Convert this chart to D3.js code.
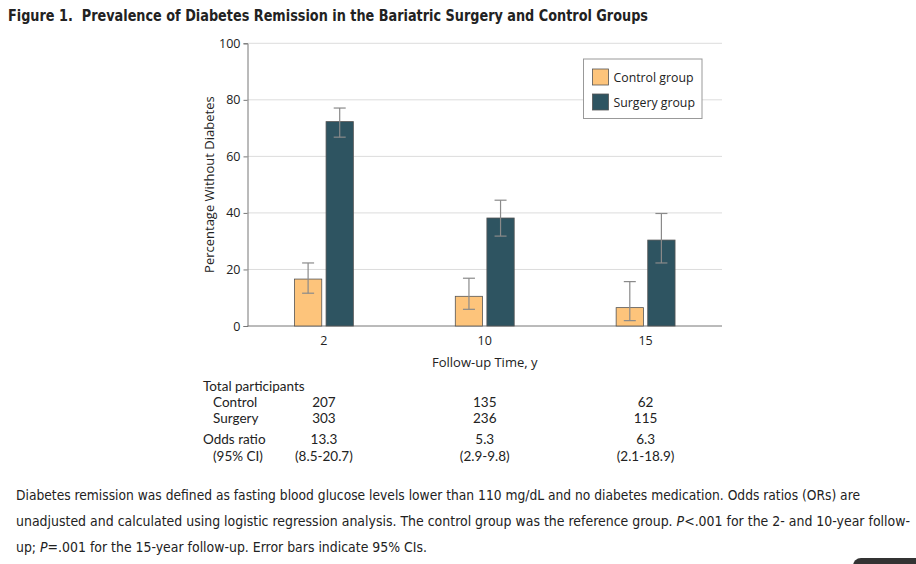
<!DOCTYPE html>
<html><head><meta charset="utf-8">
<script src="https://cdn.jsdelivr.net/npm/d3@7"></script>
<style>
body{margin:0;background:#fff;}
svg{display:block;}
</style></head>
<body>
<script>
const years = ["2", "10", "15"];
const controlValues = [16.6, 10.5, 6.5];
const controlLow = [11.6, 5.9, 1.9];
const controlHigh = [22.3, 16.9, 15.7];
const surgeryValues = [72.3, 38.2, 30.4];
const surgeryLow = [66.8, 31.8, 22.3];
const surgeryHigh = [77.1, 44.5, 39.8];
const yTicks = [0, 20, 40, 60, 80, 100];
const controlN = ["207", "135", "62"];
const surgeryN = ["303", "236", "115"];
const oddsRatio = ["13.3", "5.3", "6.3"];
const oddsCI = ["(8.5-20.7)", "(2.9-9.8)", "(2.1-18.9)"];
const seriesNames = ["Control group", "Surgery group"];
const colors = ["#FDC47B", "#2E5461"];

const W = 916, H = 564;
const svg = d3.select("body").append("svg").attr("width", W).attr("height", H);
const titleFont = "'DejaVu Sans Condensed','DejaVu Sans',sans-serif";
const bodyFont = "'Open Sans','Noto Sans',sans-serif";
const tableFont = "Lato,'Open Sans',sans-serif";

svg.append("text").attr("x", 8).attr("y", 21)
  .attr("font-family", titleFont).attr("font-weight", "bold").attr("font-size", 15)
  .attr("font-stretch", "condensed")
  .attr("fill", "#222")
  .attr("textLength", 640).attr("lengthAdjust", "spacingAndGlyphs")
  .text("Figure 1.\u00a0\u00a0Prevalence of Diabetes Remission in the Bariatric Surgery and Control Groups");

const x0 = 247.5, x1 = 722, yTop = 43.3, yBot = 326;
const x = d3.scalePoint().domain(years).range([x0, x1]).padding(0.475);
const y = d3.scaleLinear().domain([0, 100]).range([yBot, yTop]);

// gridlines
svg.append("g").selectAll("line").data(yTicks.slice(1)).join("line")
  .attr("x1", x0).attr("x2", x1).attr("y1", d => y(d)).attr("y2", d => y(d))
  .attr("stroke", "#dcdcdc").attr("stroke-width", 1);

// y axis
const yAxis = svg.append("g").attr("transform", `translate(${x0},0)`)
  .call(d3.axisLeft(y).tickValues(yTicks).tickSize(4).tickPadding(3));
yAxis.select(".domain").attr("stroke", "#777");
yAxis.selectAll(".tick line").attr("stroke", "#777");
yAxis.selectAll("text").attr("font-family", bodyFont).attr("font-size", 12.5).attr("fill", "#222");

// x axis baseline
svg.append("line").attr("x1", x0).attr("x2", x1).attr("y1", y(0)).attr("y2", y(0))
  .attr("stroke", "#777");
svg.append("g").selectAll("text").data(years).join("text")
  .attr("x", d => x(d)).attr("y", 345).attr("text-anchor", "middle")
  .attr("font-family", bodyFont).attr("font-size", 12.5).attr("fill", "#222").text(d => d);

svg.append("text").attr("x", x("10")).attr("y", 367).attr("text-anchor", "middle")
  .attr("font-family", bodyFont).attr("font-size", 13).attr("fill", "#222").text("Follow-up Time, y");

svg.append("text").attr("transform", `translate(214,${(yTop + yBot) / 2 + 0}) rotate(-90)`)
  .attr("text-anchor", "middle").attr("font-family", bodyFont).attr("font-size", 13)
  .attr("fill", "#222").text("Percentage Without Diabetes");

// bars
const barW = 27.3, gap = 4.3;
const series = [
  {vals: controlValues, lo: controlLow, hi: controlHigh},
  {vals: surgeryValues, lo: surgeryLow, hi: surgeryHigh}
];
const offset = i => i === 0 ? -(barW + gap / 2) : gap / 2;
series.forEach((s, si) => {
  const g = svg.append("g");
  g.selectAll("rect").data(years).join("rect")
    .attr("x", (d) => x(d) + offset(si)).attr("width", barW)
    .attr("y", (d, i) => y(s.vals[i])).attr("height", (d, i) => y(0) - y(s.vals[i]))
    .attr("fill", colors[si]).attr("stroke", "#555").attr("stroke-width", 0.8);
  const eb = g.selectAll("g.err").data(years).join("g").attr("class", "err")
    .attr("stroke", "#8a8a8a").attr("stroke-width", 1.2);
  const cx = d => x(d) + offset(si) + barW / 2;
  eb.append("line").attr("x1", cx).attr("x2", cx)
    .attr("y1", (d, i) => y(s.hi[i])).attr("y2", (d, i) => y(s.lo[i]));
  eb.append("line").attr("x1", d => cx(d) - 6).attr("x2", d => cx(d) + 6)
    .attr("y1", (d, i) => y(s.hi[i])).attr("y2", (d, i) => y(s.hi[i]));
  eb.append("line").attr("x1", d => cx(d) - 6).attr("x2", d => cx(d) + 6)
    .attr("y1", (d, i) => y(s.lo[i])).attr("y2", (d, i) => y(s.lo[i]));
});

// legend
const lg = svg.append("g").attr("transform", "translate(583.5,59)");
lg.append("rect").attr("width", 118.5).attr("height", 59.5).attr("fill", "#fff")
  .attr("stroke", "#999").attr("stroke-width", 1);
seriesNames.forEach((n, i) => {
  lg.append("rect").attr("x", 9).attr("y", 10 + i * 25).attr("width", 16).attr("height", 16)
    .attr("fill", colors[i]).attr("stroke", "#555").attr("stroke-width", 0.8);
  lg.append("text").attr("x", 30).attr("y", 23 + i * 25)
    .attr("font-family", bodyFont).attr("font-size", 12.3).attr("fill", "#222").text(n);
});

// table
function txt(xp, yp, t, anchor) {
  return svg.append("text").attr("x", xp).attr("y", yp).attr("text-anchor", anchor || "start")
    .attr("font-family", tableFont).attr("font-size", 13.5).attr("fill", "#222").text(t);
}
txt(203, 391, "Total participants");
txt(213, 407, "Control");
txt(213, 423, "Surgery");
txt(203, 444, "Odds ratio");
txt(213, 461, "(95% CI)");
years.forEach((yr, i) => {
  txt(x(yr), 407, controlN[i], "middle");
  txt(x(yr), 423, surgeryN[i], "middle");
  txt(x(yr), 444, oddsRatio[i], "middle");
  txt(x(yr), 461, oddsCI[i], "middle");
});

// caption
const capLines = [
  {w: 844, parts: [["Diabetes remission was defined as fasting blood glucose levels lower than 110 mg/dL and no diabetes medication. Odds ratios (ORs) are", false]]},
  {w: 894, parts: [["unadjusted and calculated using logistic regression analysis. The control group was the reference group. ", false], ["P", true], ["<.001 for the 2- and 10-year follow-", false]]},
  {w: 411, parts: [["up; ", false], ["P", true], ["=.001 for the 15-year follow-up. Error bars indicate 95% CIs.", false]]}
];
capLines.forEach((ln, li) => {
  const t = svg.append("text").attr("x", 16).attr("y", 500 + li * 26)
    .attr("font-family", titleFont).attr("font-stretch", "condensed").attr("font-size", 13.5).attr("fill", "#222")
    .attr("textLength", ln.w).attr("lengthAdjust", "spacingAndGlyphs");
  ln.parts.forEach(([s, it]) => {
    const sp = t.append("tspan").text(s);
    if (it) sp.attr("font-style", "italic");
  });
});

// corner artifact
svg.append("rect").attr("x", 853).attr("y", 558).attr("width", 80).attr("height", 20).attr("rx", 8).attr("fill", "#333");
</script>
</body></html>
